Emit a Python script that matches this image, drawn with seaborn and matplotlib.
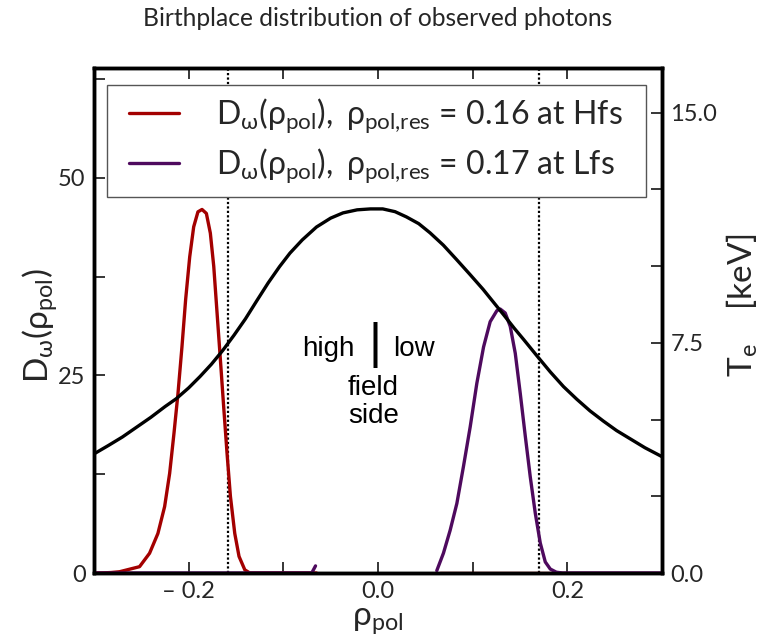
import numpy as np
import pandas as pd
import matplotlib
matplotlib.use("Agg")
import matplotlib.pyplot as plt
from matplotlib.legend_handler import HandlerLine2D
import seaborn as sns

# ---------------- data ----------------
rho_te = [-0.300, -0.285, -0.270, -0.255, -0.240, -0.225, -0.213, -0.200, -0.188,
          -0.176, -0.164, -0.152, -0.140, -0.128, -0.116, -0.104, -0.093, -0.080,
          -0.065, -0.050, -0.037, -0.022, -0.008, 0.005, 0.018, 0.030, 0.043,
          0.055, 0.069, 0.083, 0.097, 0.111, 0.122, 0.133, 0.144, 0.154,
          0.168, 0.182, 0.196, 0.210, 0.224, 0.238, 0.252, 0.267, 0.282, 0.300]
te_kev = [3.88, 4.15, 4.43, 4.75, 5.07, 5.42, 5.68, 6.03, 6.40,
          6.80, 7.25, 7.75, 8.28, 8.87, 9.45, 9.98, 10.42, 10.85,
          11.27, 11.56, 11.73, 11.83, 11.86, 11.86, 11.77, 11.60, 11.38,
          11.08, 10.68, 10.21, 9.73, 9.24, 8.82, 8.40, 7.97, 7.60,
          7.07, 6.55, 6.07, 5.66, 5.28, 4.95, 4.64, 4.36, 4.08, 3.79]

# Hfs resonance (red): high-field-side branch and low-field-side branch
rho_hfs_a = [-0.300, -0.290, -0.282, -0.273, -0.2519, -0.2413, -0.2325, -0.2254,
             -0.2201, -0.2155, -0.2113, -0.2071, -0.2032, -0.1989, -0.1947, -0.1902,
             -0.1859, -0.1813, -0.1771, -0.1735, -0.1700, -0.1665, -0.1630, -0.1595,
             -0.1559, -0.1513, -0.1468, -0.1407, -0.1354, -0.065]
d_hfs_a = [0.0, 0.02, 0.06, 0.16, 0.8, 2.5, 5.0, 8.4,
           12.6, 17.7, 22.7, 28.6, 34.6, 40.0, 43.8, 45.7,
           46.0, 45.5, 43.0, 38.8, 32.9, 27.0, 21.0, 15.2,
           9.7, 5.0, 2.1, 0.4, 0.0, 0.0]
rho_hfs_b = [0.065, 0.300]
d_hfs_b = [0.0, 0.0]

# Lfs resonance (purple)
rho_lfs_a = [-0.300, -0.070, -0.066]
d_lfs_a = [0.0, 0.0, 0.9]
rho_lfs_b = [0.0621, 0.0691, 0.0762, 0.0833, 0.0903, 0.0974, 0.1044, 0.1115, 0.1185,
             0.1256, 0.1291, 0.1344, 0.1397, 0.1450, 0.1503, 0.1556, 0.1608, 0.1661,
             0.1714, 0.1767, 0.1820, 0.1884, 0.1950, 0.300]
d_lfs_b = [0.3, 2.5, 5.4, 8.8, 13.5, 18.5, 24.0, 28.6, 31.8,
           33.2, 33.4, 32.9, 31.2, 27.8, 22.7, 17.3, 12.2, 7.6,
           3.8, 1.4, 0.5, 0.1, 0.0, 0.0]

rho_res = [-0.158, 0.170]

x_ticks = [-0.2, -0.1, 0.0, 0.1, 0.2]
x_ticklabels = ["\u2013 0.2", "", "0.0", "", "0.2"]
y_ticks = [0, 12.5, 25, 37.5, 50, 62.5]
y_ticklabels = ["0", "", "25", "", "50", ""]
te_ticks = [0, 2.5, 5, 7.5, 10, 12.5, 15]
te_ticklabels = ["0.0", "", "", "7.5", "", "", "15.0"]

labels = [r"$\mathregular{D_{\omega}(\rho_{pol}),\ \rho_{pol{,}res}}$ = 0.16 at Hfs",
          r"$\mathregular{D_{\omega}(\rho_{pol}),\ \rho_{pol{,}res}}$ = 0.17 at Lfs"]

# ---------------- style ----------------
sns.set_style("ticks")
plt.rcParams["font.family"] = ["Lato", "DejaVu Sans"]
plt.rcParams["mathtext.fontset"] = "custom"
plt.rcParams["mathtext.rm"] = "Lato"
plt.rcParams["mathtext.it"] = "Lato:italic"
plt.rcParams["mathtext.fallback"] = "stixsans"

RED = "#a30000"
PURPLE = "#4e0a5e"

df_hfs = pd.DataFrame({
    "rho": rho_hfs_a + rho_hfs_b,
    "D": d_hfs_a + d_hfs_b,
    "seg": [0] * len(rho_hfs_a) + [1] * len(rho_hfs_b),
})
df_lfs = pd.DataFrame({
    "rho": rho_lfs_a + rho_lfs_b,
    "D": d_lfs_a + d_lfs_b,
    "seg": [0] * len(rho_lfs_a) + [1] * len(rho_lfs_b),
})
df_te = pd.DataFrame({"rho": rho_te, "Te": te_kev})

fig = plt.figure(figsize=(7.64, 6.37), dpi=100)
ax = fig.add_axes([94 / 764, 1 - 573 / 637, 568 / 764, 505 / 637])

sns.lineplot(data=df_hfs, x="rho", y="D", units="seg", estimator=None, sort=False,
             color=RED, lw=2.4, ax=ax, zorder=3)
h1 = ax.get_lines()[0]
n_before = len(ax.get_lines())
sns.lineplot(data=df_lfs, x="rho", y="D", units="seg", estimator=None, sort=False,
             color=PURPLE, lw=2.4, ax=ax, zorder=3)
h2 = ax.get_lines()[n_before]

for xr in rho_res:
    ax.axvline(xr, color="black", ls=(0, (1.0, 1.0)), lw=1.6, zorder=1)

ax.set_xlim(-0.3, 0.3)
ax.set_ylim(0, 63.9)
ax.set_xticks(x_ticks)
ax.set_xticklabels(x_ticklabels)
ax.set_yticks(y_ticks)
ax.set_yticklabels(y_ticklabels)
ax.tick_params(direction="in", length=8, width=1.3, top=True, right=False,
               labelsize=17, pad=6)
ax.set_xlabel(r"$\mathregular{\rho_{pol}}$", fontsize=24)
ax.set_ylabel(r"$\mathregular{D_{\omega}(\rho_{pol})}$", fontsize=24)
ax.xaxis.set_label_coords(0.5, -0.095)
ax.yaxis.set_label_coords(-0.095, 0.49)
ax.xaxis.label.set_va("center")
ax.yaxis.label.set_va("center")

# Te on twin axis
ax2 = ax.twinx()
sns.lineplot(data=df_te, x="rho", y="Te", color="black", lw=2.4, ax=ax2)
ax2.set_ylim(0, 16.45)
ax2.set_yticks(te_ticks)
ax2.set_yticklabels(te_ticklabels)
ax2.tick_params(direction="in", length=8, width=1.3, labelsize=17, pad=6)
ax2.set_ylabel(r"$\mathregular{T_{e}}$    [keV]", fontsize=24, rotation=90)
ax2.yaxis.set_label_coords(1.141, 0.53)
ax2.yaxis.label.set_va("center")
ax2.set_xlim(-0.3, 0.3)

for a in (ax, ax2):
    for s in a.spines.values():
        s.set_visible(True)
        s.set_linewidth(2.5)
        s.set_color("black")

# annotation text
tfont = dict(family=["Liberation Sans", "DejaVu Sans"], fontsize=20, color="black")
ax.text(-0.0243, 27.4, "high", ha="right", va="baseline", **tfont)
ax.text(0.0159, 27.4, "low", ha="left", va="baseline", **tfont)
ax.text(-0.005, 22.5, "field", ha="center", va="baseline", **tfont)
ax.text(-0.005, 19.0, "side", ha="center", va="baseline", **tfont)
ax.text(-0.003, 28.9, "|", ha="center", va="center",
        family=["Liberation Sans", "DejaVu Sans"], fontsize=36, color="black")

# legend box: x 107..646 px, top at 85 px
leg_x0 = (107 - 94) / 568
leg_w = (646 - 107) / 568
leg_top = (573 - 85) / 505
leg = ax2.legend([h1, h2], labels, loc="upper left", mode="expand",
                 bbox_to_anchor=(leg_x0, leg_top - 0.2, leg_w, 0.2),
                 borderaxespad=0, fontsize=23, handlelength=2.26, handletextpad=0.8,
                 borderpad=0.35, labelspacing=0.36, fancybox=False, frameon=True,
                 framealpha=1.0,
                 handler_map={h1: HandlerLine2D(numpoints=2, marker_pad=0.35),
                              h2: HandlerLine2D(numpoints=2, marker_pad=0.35)})
leg.get_frame().set_edgecolor("#555555")
leg.get_frame().set_linewidth(1.0)
for ln in leg.get_lines():
    ln.set_linewidth(2.4)

fig.text(0.494, 1 - 18 / 637, "Birthplace distribution of observed photons",
         ha="center", va="center", fontsize=17.7)

fig.savefig("out.png", dpi=100)
